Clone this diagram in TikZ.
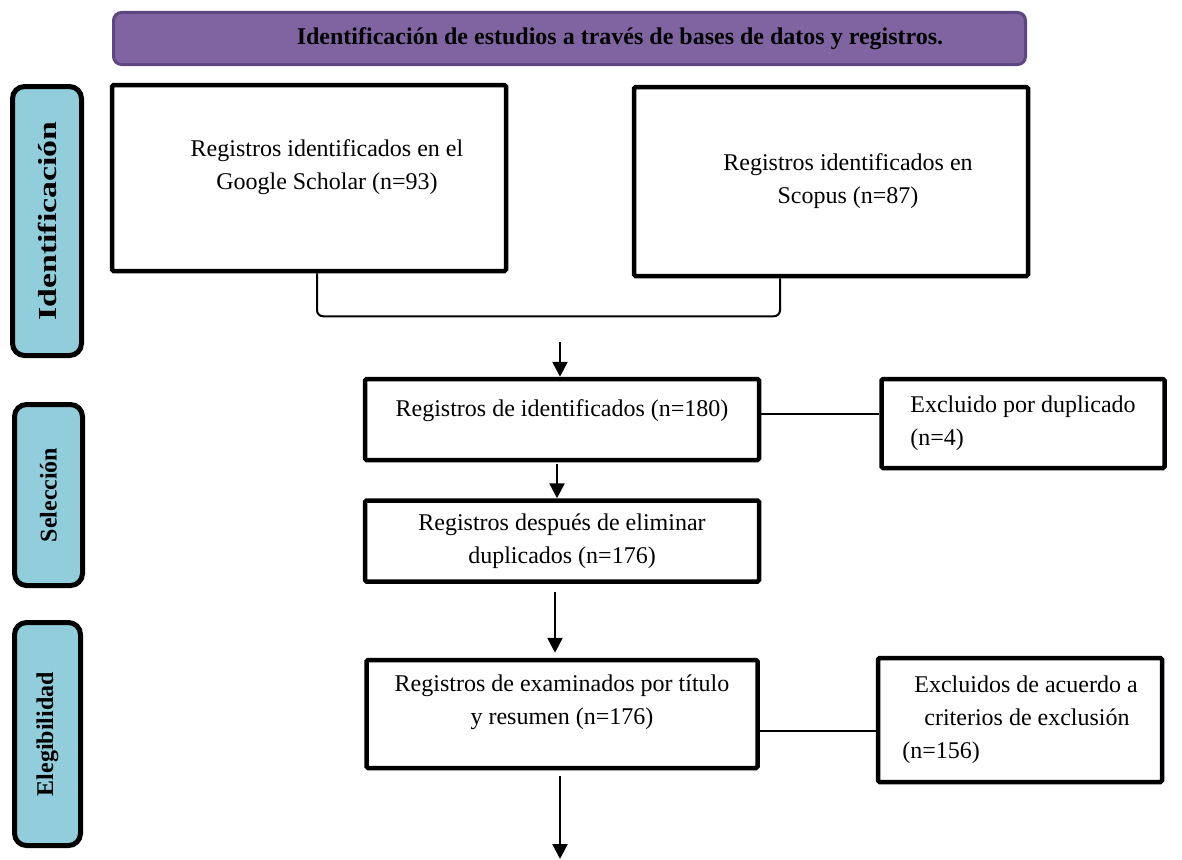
\documentclass[tikz,border=0pt]{standalone}
\usepackage{fontspec}
\setmainfont{Liberation Serif}
\usetikzlibrary{arrows.meta,positioning}

\definecolor{bannerfill}{RGB}{128,100,162}
\definecolor{bannerline}{RGB}{93,71,128}
\definecolor{phasefill}{RGB}{146,205,220}

\begin{document}
\begin{tikzpicture}[x=1pt,y=1pt,
    every node/.style={font=\fontsize{24}{33}\selectfont},
    banner/.style={draw=bannerline,line width=3pt,fill=bannerfill,rounded corners=8pt,
      minimum width=912pt,minimum height=52pt,font=\fontsize{24}{33}\selectfont\bfseries},
    phase/.style={draw,line width=5pt,fill=phasefill,rounded corners=12pt,rotate=90,
      font=\fontsize{24}{33}\selectfont\bfseries},
    record/.style={draw,line width=4.5pt,rounded corners=1.5pt,align=center},
    link/.style={line width=2pt},
    flow/.style={line width=2.5pt,-{Triangle[width=15pt,length=15pt]}}]
  \useasboundingbox (0,0) rectangle (1182,-859);

  % title and phases
  \node[banner] (title) at (569.5,-38.5)
    {\hspace*{101pt}Identificación de estudios a través de bases de datos y registros.};
  \node[phase,minimum width=269pt,minimum height=69pt,font=\fontsize{26}{33}\selectfont\bfseries] (ident) at (47,-221)
    {\scalebox{1.3}[1]{Identificación}};
  \node[phase,minimum width=181pt,minimum height=68pt] (selec) at (48.5,-495) {Selección};
  \node[phase,minimum width=223pt,minimum height=66pt] (elegib) at (47.5,-734) {Elegibilidad};

  % records
  \node[record,minimum width=394pt,minimum height=186pt,text depth=26pt] (scholar) at (309,-178)
    {\hspace*{36pt}Registros identificados en el\\\hspace*{36pt}Google Scholar (n=93)};
  \node[record,minimum width=394pt,minimum height=189pt] (scopus) at (831,-181.5)
    {\hspace*{34pt}Registros identificados en\\\hspace*{34pt}Scopus (n=87)};
  \node[record,minimum width=394pt,minimum height=81pt,text depth=23pt] (found) at (562,-419.5)
    {Registros de identificados (n=180)};
  \node[record,minimum width=283pt,minimum height=89pt,align=left,right=118pt of found,yshift=-4pt] (dupl)
    {Excluido por duplicado\\(n=4)};
  \node[record,minimum width=394pt,minimum height=81pt,below=36pt of found] (unique)
    {Registros después de eliminar\\duplicados (n=176)};
  \node[record,minimum width=391pt,minimum height=108pt,text depth=28pt,below=74pt of unique] (screened)
    {Registros de examinados por título\\y resumen (n=176)};
  \node[record,minimum width=284pt,minimum height=124pt,align=left,right=116pt of screened,yshift=-6pt] (excluded)
    {\hspace*{12pt}Excluidos de acuerdo a\\\hspace*{22pt}criterios de exclusión\\(n=156)};

  % connectors
  \coordinate (merge) at (560,-342);
  \coordinate (next) at (560,-859);
  \draw[link,rounded corners=6pt] ([xshift=8pt]scholar.south) -- ++(0,-43) -| ([xshift=-51pt]scopus.south);
  \draw[flow] (merge) -- (merge |- found.north);
  \draw[link] ([yshift=6pt]found.east) -- ([yshift=6pt]found.east -| dupl.west);
  \draw[flow,shorten <=2pt] ([xshift=-5pt]found.south) -- ([xshift=-5pt]found.south |- unique.north);
  \draw[flow,shorten <=8pt,shorten >=5pt] ([xshift=-7pt]unique.south) -- ([xshift=-7pt]unique.south |- screened.north);
  \draw[link] ([yshift=-17pt]screened.east) -- ([yshift=-17pt]screened.east -| excluded.west);
  \draw[flow,shorten <=6pt] (screened.south -| next) -- (next);
\end{tikzpicture}
\end{document}
